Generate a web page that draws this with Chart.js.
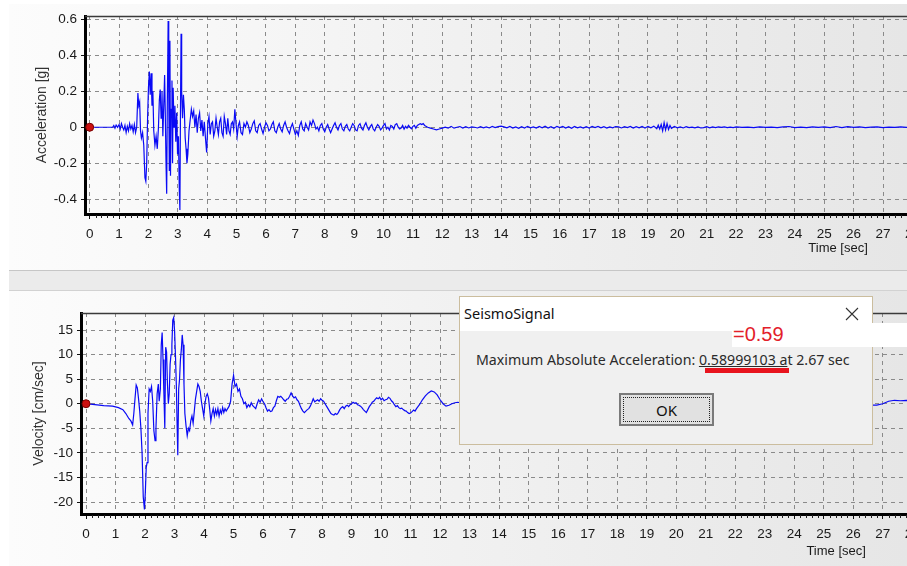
<!DOCTYPE html>
<html><head><meta charset="utf-8">
<script src="https://cdn.jsdelivr.net/npm/chart.js@4.4.0/dist/chart.umd.min.js"></script>
<style>
html,body{margin:0;padding:0;width:907px;height:566px;overflow:hidden;background:#fff;font-family:"Liberation Sans",Arial,sans-serif;}
.panel{position:absolute;left:9px;width:898px;background:linear-gradient(to right,#fcfcfc,#e6e6e6);}
#p1{top:4px;height:266px;}
#band{position:absolute;left:9px;width:898px;top:270px;height:19px;background:#ebebeb;border-top:1px solid #c6c6c6;border-bottom:1px solid #d2d2d2;}
#p2{top:291px;height:275px;}
canvas{position:absolute;left:0;}
#c1{top:0;}
#c2{top:290px;}
#dlg{position:absolute;left:459px;top:296px;width:414px;height:149px;box-sizing:border-box;background:#f0f0f0;border:1px solid #cbbd9e;font-family:"Noto Sans",sans-serif;color:#2a2a2a;z-index:5;}
#dlgTitle{position:absolute;left:0;top:0;right:0;height:34px;background:#fff;}
#dlgTitle .t{position:absolute;left:4px;top:6px;font-size:14.5px;color:#111;line-height:20px;}
#dlgTitle svg{position:absolute;left:385px;top:10px;}
#msg{position:absolute;left:16px;top:54px;font-size:14.2px;line-height:18px;white-space:nowrap;color:#2b2b2b;}
#msg .num{text-decoration:underline;}
#ok{position:absolute;left:159px;top:96px;width:95px;height:33px;box-sizing:border-box;border:2px solid #7a7a7a;background:#e1e1e1;}
#ok .focus{position:absolute;left:2px;top:2px;right:2px;bottom:2px;border:1px dotted #222;text-align:center;font-size:15px;line-height:25px;color:#111;}
#whiteBox{position:absolute;left:732px;top:323px;width:175px;height:24px;background:#fff;z-index:6;}
#redVal{position:absolute;left:733px;top:322px;font-size:20px;line-height:24px;color:#e3202a;z-index:7;font-family:"Liberation Sans",Arial,sans-serif;}
#redBar{position:absolute;left:705px;top:368px;width:84px;height:5px;background:#e8141e;z-index:7;}
</style>
</head><body>
<div class="panel" id="p1"></div>
<div id="band"></div>
<div class="panel" id="p2"></div>
<canvas id="c1" width="960" height="268"></canvas>
<canvas id="c2" width="960" height="276"></canvas>

<div id="dlg">
  <div id="dlgTitle"><span class="t">SeismoSignal</span>
    <svg width="14" height="14" viewBox="0 0 14 14"><path d="M1 1 L13 13 M13 1 L1 13" stroke="#333" stroke-width="1.1" fill="none"/></svg>
  </div>
  <div id="msg">Maximum Absolute Acceleration: <span class="num">0.58999103 a</span>t 2.67 sec</div>
  <div id="ok"><div class="focus">OK</div></div>
</div>
<div id="whiteBox"></div>
<div id="redVal">=0.59</div>
<div id="redBar"></div>

<script>
// ---------------- DATA ----------------
const timeTicks = [0,1,2,3,4,5,6,7,8,9,10,11,12,13,14,15,16,17,18,19,20,21,22,23,24,25,26,27,28];
const accTicks = [-0.4,-0.2,0,0.2,0.4,0.6];
const velTicks = [-20,-15,-10,-5,0,5,10,15];

// Acceleration record [g]
const accTime = [
 0,0.78,0.82,0.86,0.9,0.95,1.0,1.04,1.08,1.12,
 1.16,1.2,1.24,1.28,1.32,1.36,1.4,1.44,1.48,1.52,
 1.56,1.6,1.64,1.67,1.7,1.73,1.76,1.8,1.84,1.88,
 1.91,1.94,1.97,2.0,2.03,2.06,2.09,2.12,2.15,2.18,
 2.22,2.26,2.3,2.34,2.37,2.4,2.43,2.46,2.49,2.52,
 2.55,2.57,2.6,2.62,2.64,2.67,2.69,2.71,2.73,2.75,
 2.77,2.8,2.82,2.84,2.87,2.9,2.93,2.96,2.99,3.02,
 3.05,3.07,3.09,3.11,3.13,3.16,3.19,3.22,3.25,3.28,
 3.31,3.34,3.38,3.42,3.46,3.5,3.54,3.58,3.62,3.66,
 3.7,3.74,3.78,3.82,3.86,3.9,3.94,3.98,4.02,4.06,
 4.1,4.14,4.18,4.22,4.26,4.3,4.34,4.38,4.42,4.46,
 4.5,4.54,4.58,4.62,4.66,4.7,4.74,4.78,4.82,4.86,
 4.9,4.94,4.98,5.02,5.06,5.1,5.15,5.2,5.25,5.3,
 5.35,5.4,5.45,5.5,5.55,5.6,5.65,5.7,5.75,5.8,
 5.85,5.9,5.95,6.0,6.05,6.1,6.15,6.2,6.25,6.3,
 6.35,6.4,6.45,6.5,6.55,6.6,6.65,6.7,6.75,6.8,
 6.85,6.9,6.95,7.0,7.05,7.1,7.15,7.2,7.25,7.3,
 7.35,7.4,7.45,7.5,7.55,7.6,7.65,7.7,7.75,7.8,
 7.85,7.9,7.95,8.0,8.05,8.1,8.15,8.2,8.25,8.3,
 8.35,8.4,8.45,8.5,8.55,8.6,8.65,8.7,8.75,8.8,
 8.85,8.9,8.95,9.0,9.05,9.1,9.15,9.2,9.25,9.3,
 9.35,9.4,9.45,9.5,9.55,9.6,9.65,9.7,9.75,9.8,
 9.85,9.9,9.95,10.0,10.05,10.1,10.15,10.2,10.25,10.3,
 10.35,10.4,10.45,10.5,10.55,10.6,10.65,10.7,10.75,10.8,
 10.85,10.9,10.95,11.0,11.05,11.1,11.15,11.2,11.25,11.3,
 11.35,11.4,11.5,11.6,11.7,11.8,11.9,12.0,12.1,12.2,
 12.3,12.4,12.5,12.6,12.7,12.8,12.9,13.0,13.1,13.2,
 13.3,13.4,13.5,13.6,13.7,13.8,13.9,14.0,14.1,14.2,
 14.3,14.4,14.5,14.6,14.7,14.8,14.9,15.0,15.1,15.2,
 15.3,15.4,15.5,15.6,15.7,15.8,15.9,16.0,16.1,16.2,
 16.3,16.4,16.5,16.6,16.7,16.8,16.9,17.0,17.1,17.2,
 17.3,17.4,17.5,17.6,17.7,17.8,17.9,18.0,18.1,18.2,
 18.3,18.4,18.5,18.6,18.7,18.8,18.9,19.0,19.1,19.2,
 19.3,19.35,19.4,19.45,19.5,19.55,19.6,19.65,19.7,19.75,
 19.8,19.9,20.0,20.1,20.2,20.3,20.4,20.5,20.6,20.7,
 20.8,20.9,21.0,21.1,21.2,21.3,21.4,21.5,21.6,21.7,
 21.8,21.9,22.0,22.2,22.4,22.6,22.8,23.0,23.2,23.4,
 23.6,23.8,24.0,24.2,24.4,24.6,24.8,25.0,25.2,25.4,
 25.6,25.8,26.0,26.2,26.4,26.6,26.8,27.0,27.2,27.4,
 27.6,27.8,28.0,28.2,28.4,28.6,28.8,28.9,29.0,29.1
];
const accValue = [
 0,0,0.01,-0.005,0.012,0,0.015,-0.01,0.02,0,
 -0.015,0.01,-0.03,0.005,-0.02,0.02,-0.01,0.01,-0.025,0.015,
 -0.03,0,0.19,0.12,0.14,-0.02,-0.06,-0.03,-0.1,-0.28,
 -0.3,-0.2,0.05,0.22,0.31,0.18,0.3,0.12,0.2,-0.02,
 -0.1,-0.05,-0.12,0,0.15,0.21,0.05,0.2,-0.05,0.12,
 0.29,0.1,-0.22,-0.37,0.1,0.59,0.2,-0.24,0.48,-0.27,
 0.1,0.26,-0.2,0.22,0,0.12,-0.08,0.08,-0.15,-0.05,
 -0.35,-0.46,0.1,0.52,0.2,0.05,0.18,0.1,-0.06,-0.12,
 -0.2,-0.15,-0.02,0.04,0.1,0.06,0.09,0,0.07,-0.03,
 0.05,0.08,-0.02,0.04,-0.05,0.03,-0.06,-0.14,0.02,0.06,
 -0.04,0.02,0.03,-0.05,-0.02,0.05,0,-0.04,0.03,0.05,
 -0.03,-0.05,0.06,0.02,-0.04,0.05,-0.02,-0.04,0.02,0.03,
 -0.01,0.1,0.02,-0.05,0.01,0.03,-0.03,-0.04,0.02,0,
 0.03,0.01,-0.03,-0.01,0.02,0.035,-0.02,-0.03,0.01,0.02,
 -0.01,-0.035,0,0.025,0.01,-0.02,-0.01,0.015,0.03,-0.02,
 -0.03,0,0.02,-0.01,-0.025,0.01,0.03,0,-0.02,-0.035,
 0,0.02,-0.01,-0.04,-0.02,-0.045,0.01,0.03,-0.01,-0.02,
 0.02,0,-0.015,0.03,0.01,0.04,0.02,-0.01,0,-0.02,
 0.01,0.02,-0.01,-0.025,0,0.015,-0.01,-0.03,-0.01,0.01,
 0.025,0,-0.015,0.01,0.02,-0.01,-0.02,0.005,0.015,-0.01,
 -0.02,0,0.02,0.01,-0.015,-0.02,0.01,0.02,-0.005,-0.015,
 0.01,0.025,0,-0.015,0.005,0.015,-0.01,-0.02,0,0.015,
 0.005,-0.015,-0.005,0.01,0.02,-0.01,0,-0.015,0.01,0.005,
 -0.01,0.015,0.02,0,-0.01,-0.005,0.01,-0.01,0.005,-0.005,
 0.01,0,-0.008,0.005,0.01,-0.005,0.01,0.015,0.02,0.015,
 0.02,0.01,0,-0.005,-0.01,-0.015,-0.01,-0.005,0,-0.005,
 0.005,-0.005,0,0.004,-0.005,0.003,-0.004,0.002,0,-0.004,
 0.003,-0.003,0.002,-0.004,0.004,-0.002,0.003,0.006,0.002,-0.003,
 0.004,-0.005,0.002,-0.006,0.003,-0.004,0.005,-0.003,0.002,-0.005,
 0.004,-0.003,0.006,-0.004,0.003,-0.006,0.005,-0.002,0.004,-0.005,
 0.003,-0.006,0.004,-0.003,0.002,-0.005,0.003,-0.004,0.005,-0.002,
 0.004,-0.003,0.003,-0.005,0.002,-0.003,0.004,0.002,-0.004,0.003,
 -0.002,0.004,-0.005,0.003,-0.003,0.004,-0.004,0.005,-0.003,0.006,
 -0.008,0.012,-0.01,0.015,-0.02,0.025,-0.015,0.02,-0.012,0.01,
 -0.006,0.004,-0.003,0.002,-0.004,0.003,-0.002,0.001,-0.003,0.002,
 -0.004,-0.002,0.003,-0.003,0.002,-0.002,0.002,-0.001,0.002,-0.002,
 0.001,-0.002,0.002,-0.001,0.001,-0.002,0.002,-0.001,0.001,-0.002,
 0.002,0.004,-0.002,0.001,-0.002,0.002,-0.001,0.002,-0.002,0.004,
 -0.002,0.003,-0.001,0.002,-0.002,0.001,0.002,-0.002,0.001,-0.001,
 0.002,-0.001,0.001,-0.002,0.001,-0.001,0.002,-0.001,0.001,0
];

// Velocity record [cm/sec]
const velTime = [
 0,0.3,0.6,0.9,1.1,1.25,1.35,1.45,1.52,1.58,
 1.62,1.66,1.7,1.74,1.78,1.82,1.86,1.9,1.94,1.98,
 2.01,2.04,2.07,2.1,2.14,2.18,2.22,2.26,2.3,2.34,
 2.37,2.41,2.45,2.48,2.52,2.55,2.58,2.61,2.64,2.67,
 2.7,2.73,2.76,2.79,2.82,2.85,2.88,2.91,2.94,2.97,
 3.0,3.03,3.06,3.09,3.11,3.14,3.17,3.2,3.23,3.26,
 3.29,3.32,3.35,3.39,3.43,3.47,3.51,3.55,3.59,3.63,
 3.67,3.71,3.75,3.79,3.83,3.87,3.91,3.95,3.99,4.03,
 4.07,4.11,4.15,4.19,4.23,4.27,4.31,4.35,4.39,4.43,
 4.47,4.51,4.55,4.59,4.63,4.67,4.71,4.75,4.8,4.85,
 4.9,4.95,5.0,5.05,5.1,5.15,5.2,5.25,5.3,5.35,
 5.4,5.45,5.5,5.55,5.6,5.65,5.7,5.75,5.8,5.85,
 5.9,5.95,6.0,6.05,6.1,6.15,6.2,6.25,6.3,6.35,
 6.4,6.45,6.5,6.55,6.6,6.65,6.7,6.75,6.8,6.85,
 6.9,6.95,7.0,7.05,7.1,7.15,7.2,7.25,7.3,7.35,
 7.4,7.45,7.5,7.55,7.6,7.65,7.7,7.75,7.8,7.85,
 7.9,7.95,8.0,8.05,8.1,8.15,8.2,8.25,8.3,8.35,
 8.4,8.45,8.5,8.55,8.6,8.65,8.7,8.75,8.8,8.85,
 8.9,8.95,9.0,9.05,9.1,9.15,9.2,9.25,9.3,9.35,
 9.4,9.45,9.5,9.55,9.6,9.65,9.7,9.75,9.8,9.85,
 9.9,9.95,10.0,10.05,10.1,10.15,10.2,10.25,10.3,10.35,
 10.4,10.45,10.5,10.55,10.6,10.65,10.7,10.75,10.8,10.85,
 10.9,10.95,11.0,11.05,11.1,11.15,11.2,11.3,11.4,11.5,
 11.6,11.7,11.8,11.9,12.0,12.1,12.2,12.3,12.4,12.5,
 12.6,13.2,14.0,15.0,16.0,17.5,19.0,21.0,23.0,25.0,
 26.0,26.5,26.8,27.0,27.2,27.4,27.6,27.8,28.2,28.8
];
const velValue = [
 0,-0.2,-0.4,-0.5,-0.8,-1.2,-2,-3,-3.5,-4.3,
 -2,1,3.8,3.2,1,-1.5,-5,-10,-19,-21.5,
 -18,-13,-12,-2,3,2.5,3.5,0.5,-5.5,-7.5,
 -5,2,4,0.5,3,12,14.5,9,2,-5,
 11.5,10.5,4,0,2,8,10,12,17,17.5,
 15,10,4,-5,-10.5,3,5,9,11,14,
 12,4,-2,-4.5,-6.5,-5,-5.5,-3.5,-2.5,-4,
 -1.5,1,2.5,4,3.5,2.5,0.5,-1,-2.5,0,
 1.5,2,1.2,-1,-3.5,-2,-1,-2.5,-1.2,-2.2,
 -1,-2.5,-1.3,-2,-0.8,-1.8,-1,-1.5,-1,-0.5,
 0.5,4,5.8,3.5,4,2.5,3,1.5,1,0,
 0.3,-0.8,-0.2,-0.6,0.2,-0.4,-0.7,-1,0,0.8,
 0.3,1,0.4,0,-0.8,-1.5,-1.2,-1.6,-1.5,-0.8,
 -0.5,0.6,1.5,1.3,1.5,1.2,0.8,0.5,0.9,1,
 1.5,2.2,1.6,1.2,1.4,0.8,0.5,-0.3,-1,-1.5,
 -1.8,-1.5,-1.2,-1,-0.5,0.2,1,0.4,0.6,0.8,
 0.5,1,0.7,0.5,0,-0.5,-1,-1.5,-2,-2.2,
 -2.3,-2,-2.2,-1.8,-1.2,-0.8,-0.6,-1,-0.5,-0.3,
 -0.6,-0.2,0,0.3,0.1,0.2,-0.2,-0.3,-0.5,-0.8,
 -1.2,-1.5,-1.8,-1.2,-0.6,-0.2,0.3,0.5,0.9,1.2,
 1,1.3,0.8,1.1,0.6,0.8,0.9,1.3,1.1,0.6,
 0.3,-0.2,-0.6,-0.4,-0.8,-1,-0.9,-1.2,-1.4,-1.5,
 -1.8,-2,-1.9,-1.6,-1.3,-1.5,-1,-0.2,0.8,1.6,
 2.2,2.6,2.4,1.8,0.8,0,-0.5,-0.3,0,0.2,
 0.3,-0.5,0.4,-0.3,0.2,-0.4,0.3,-0.2,0.1,-0.3,
 -0.4,-0.3,-0.3,0,0.5,0.7,0.6,0.7,0.6,0.5
];

// ---------------- CHARTS ----------------
const FONT = '"Liberation Sans", Arial, sans-serif';
const framePlugin = {
  id: 'frame',
  afterDraw(chart, args, o) {
    const {ctx, chartArea: a} = chart;
    const x = chart.scales.x;
    ctx.save();
    ctx.strokeStyle = '#3a3a3a'; ctx.lineWidth = 1.5;
    ctx.beginPath(); ctx.moveTo(a.left, a.top + 0.5); ctx.lineTo(a.right, a.top + 0.5); ctx.stroke();
    ctx.strokeStyle = '#222'; ctx.lineWidth = 1;
    for (let i = 1; i <= 145; i++) {
      if (i % 5 === 0) continue;
      const px = Math.round(x.getPixelForValue(i / 5)) + 0.5;
      if (px < a.left || px > a.right) continue;
      ctx.beginPath(); ctx.moveTo(px, a.bottom + 1); ctx.lineTo(px, a.bottom + 4); ctx.stroke();
    }
    ctx.fillStyle = '#1a1a1a'; ctx.font = '13px ' + FONT;
    ctx.textAlign = 'center'; ctx.textBaseline = 'middle';
    ctx.fillText(o.label, x.getPixelForValue(o.at), a.bottom + o.dy);
    ctx.restore();
  }
};

function build(id, times, values, cfg) {
  const pts = times.map((t, i) => ({x: t, y: values[i]}));
  return new Chart(document.getElementById(id), {
    type: 'line',
    data: { datasets: [
      { data: [{x: 0, y: 0}], showLine: false, pointRadius: 4, pointBackgroundColor: '#cc1010', pointBorderColor: '#7a0000', pointBorderWidth: 1 },
      { data: pts, borderColor: '#0a0af5', borderWidth: 1.2, pointRadius: 0, tension: 0, fill: false }
    ]},
    options: {
      responsive: false, animation: false, devicePixelRatio: 1,
      layout: { padding: { left: 0, top: cfg.top, right: 15, bottom: 0 } },
      plugins: { legend: {display: false}, tooltip: {enabled: false},
        frame: { label: 'Time [sec]', at: cfg.timeAt, dy: cfg.timeDy } },
      scales: {
        x: {
          type: 'linear', min: cfg.xmin, max: 29.11,
          afterBuildTicks: s => { s.ticks = timeTicks.map(v => ({value: v})); },
          afterFit: s => { s.height = cfg.xh; },
          grid: { color: '#8a8a8a', lineWidth: 1, tickLength: 5, tickColor: '#111', tickBorderDash: [] },
          border: { display: true, color: '#000', width: 3, dash: [4, 4] },
          ticks: { color: '#1a1a1a', font: {family: FONT, size: 13.5}, padding: 7, maxRotation: 0, autoSkip: false,
                   callback: v => String(v) }
        },
        y: {
          min: cfg.ymin, max: cfg.ymax,
          afterBuildTicks: s => { s.ticks = cfg.yticks.map(v => ({value: v})); },
          afterFit: s => { s.width = cfg.yw; },
          grid: { color: '#8a8a8a', lineWidth: 1, tickLength: 4, tickColor: '#111', tickBorderDash: [] },
          border: { display: true, color: '#000', width: 3, dash: [4, 4] },
          ticks: { color: '#1a1a1a', font: {family: FONT, size: 13.5}, padding: 4, callback: cfg.fmt },
          title: { display: true, text: cfg.title, color: '#333', font: {family: FONT, size: 14},
                   padding: {top: cfg.titlePad, bottom: 0} }
        }
      }
    },
    plugins: [framePlugin]
  });
}

build('c1', accTime, accValue, {
  top: 16, xh: 54, yw: 85, xmin: -0.16, ymin: -0.482, ymax: 0.618, yticks: accTicks,
  fmt: v => v === 0 ? '0' : v.toFixed(1), title: 'Acceleration [g]', titlePad: 34,
  timeAt: 25.47, timeDy: 34
});
build('c2', velTime, velValue, {
  top: 23, xh: 52, yw: 81, xmin: -0.17, ymin: -22.44, ymax: 18.46, yticks: velTicks,
  fmt: v => String(v), title: 'Velocity [cm/sec]', titlePad: 31,
  timeAt: 25.42, timeDy: 37
});
</script>
</body></html>
